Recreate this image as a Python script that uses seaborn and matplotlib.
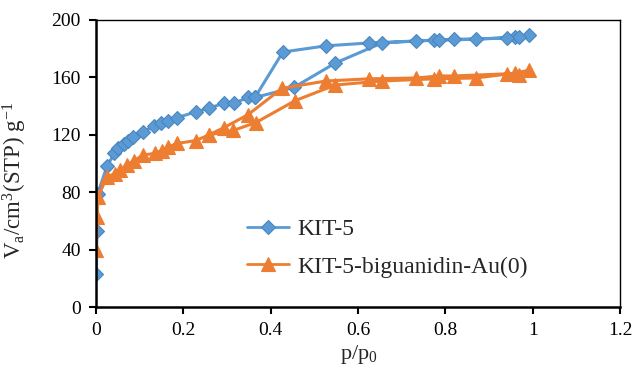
import numpy as np
import pandas as pd
import matplotlib
matplotlib.use("Agg")
import matplotlib.pyplot as plt
import seaborn as sns

# ---- data ----
kit5_ads_x = [0.001, 0.002, 0.004, 0.025, 0.042, 0.051, 0.063, 0.074, 0.085, 0.108, 0.133, 0.149,
              0.165, 0.186, 0.229, 0.259, 0.293, 0.316, 0.348, 0.364, 0.453, 0.548, 0.655, 0.774,
              0.870, 0.960, 0.992]
kit5_ads_y = [23, 53, 79, 98, 107, 110.7, 113.6, 116, 118.5, 122, 126, 128,
              129.6, 132, 136, 138.6, 142, 142, 146, 146, 153, 170, 184, 186,
              186.5, 188, 189.5]
kit5_des_x = [0.969, 0.941, 0.820, 0.786, 0.733, 0.625, 0.527, 0.428, 0.364]
kit5_des_y = [188, 187.5, 186.5, 186, 185.4, 184, 182, 177.7, 146]

au_ads_x = [0.001, 0.002, 0.005, 0.025, 0.044, 0.055, 0.070, 0.087, 0.108, 0.135, 0.150,
            0.165, 0.186, 0.229, 0.259, 0.314, 0.366, 0.456, 0.548, 0.655, 0.774, 0.870,
            0.960, 0.992]
au_ads_y = [40, 63, 77, 90.6, 93, 95.5, 99, 102, 106, 107, 109,
            111.5, 114, 116, 120, 123, 128.5, 143.8, 154.7, 157.5, 159, 159.6,
            163, 165]
au_des_x = [0.969, 0.941, 0.820, 0.786, 0.733, 0.625, 0.527, 0.426, 0.348, 0.293, 0.259]
au_des_y = [161.7, 162.5, 161, 161, 159.6, 159, 157.5, 152.4, 134, 125, 120]

labels = ["KIT-5", "KIT-5-biguanidin-Au(0)"]
x_ticks = [0, 0.2, 0.4, 0.6, 0.8, 1, 1.2]
x_tick_labels = ["0", "0.2", "0.4", "0.6", "0.8", "1", "1.2"]
y_ticks = [0, 40, 80, 120, 160, 200]

df = pd.concat([
    pd.DataFrame({"x": kit5_ads_x + kit5_des_x, "y": kit5_ads_y + kit5_des_y, "sample": labels[0]}),
    pd.DataFrame({"x": au_ads_x + au_des_x, "y": au_ads_y + au_des_y, "sample": labels[1]}),
], ignore_index=True)

# ---- style ----
sns.set_style("white")
plt.rcParams["font.family"] = ["Liberation Serif", "DejaVu Serif"]
plt.rcParams["mathtext.fontset"] = "custom"
plt.rcParams["mathtext.rm"] = "Liberation Serif"
plt.rcParams["mathtext.it"] = "Liberation Serif:italic"

blue = "#5B9BD5"
orange = "#ED7D31"

fig = plt.figure(figsize=(6.32, 3.78), dpi=100)
ax = fig.add_axes([96 / 632, 1 - 307 / 378, 524 / 632, 287 / 378])

sns.lineplot(data=df, x="x", y="y", hue="sample", style="sample", sort=False, estimator=None,
             palette={labels[0]: blue, labels[1]: orange},
             markers={labels[0]: "D", labels[1]: "^"}, dashes=False,
             linewidth=2.2, ax=ax)

def style_line(line):
    if matplotlib.colors.to_hex(line.get_color()).lower() == blue.lower():
        line.set_markersize(7.5)
        line.set_markeredgecolor("#4A86BE")
        line.set_markeredgewidth(0.8)
    else:
        line.set_markersize(9.5)
        line.set_markeredgecolor(orange)
        line.set_markeredgewidth(0.8)

for line in ax.get_lines():
    style_line(line)

ax.set_xlim(0, 1.2)
ax.set_ylim(0, 200)
ax.set_xticks(x_ticks)
ax.set_xticklabels(x_tick_labels)
ax.set_yticks(y_ticks)
ax.tick_params(axis="both", direction="out", length=5, width=1.5, labelsize=14,
               colors="black", left=True, bottom=True, pad=6)

for side in ["left", "bottom"]:
    ax.spines[side].set_linewidth(1.8)
    ax.spines[side].set_color("black")
for side in ["top", "right"]:
    ax.spines[side].set_linewidth(1.0)
    ax.spines[side].set_color("black")
    ax.spines[side].set_visible(True)

ax.set_xlabel(r"p/p$_{\mathrm{0}}$", fontsize=16)
ax.xaxis.set_label_coords(0.502, -0.125)
ax.set_ylabel(r"V$_{\mathrm{a}}$/cm$^{\mathrm{3}}$(STP) g$^{\mathrm{-1}}$", fontsize=16.5)
ax.yaxis.set_label_coords(-0.128, 0.44)

handles, labs = ax.get_legend_handles_labels()
leg = ax.legend(handles, labs, loc="upper left", bbox_to_anchor=(0.271, 0.341), frameon=False,
                fontsize=17, labelspacing=0.68, handlelength=1.78, handletextpad=0.34,
                borderaxespad=0)
for h in leg.legend_handles:
    h.set_linewidth(2)
    style_line(h)

fig.savefig("out.png", dpi=100)
